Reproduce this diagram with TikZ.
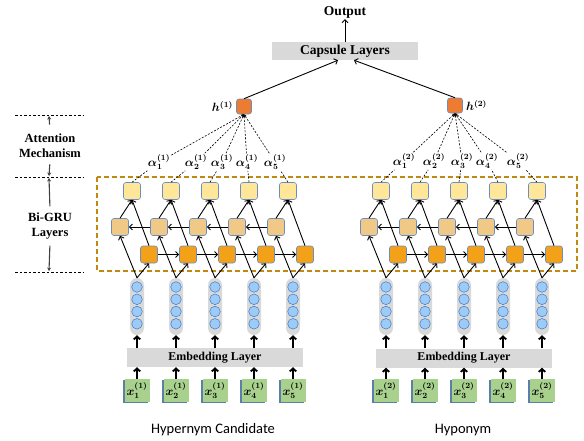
\documentclass[tikz,border=0pt]{standalone}
\usepackage{fontspec}
\setmainfont{Liberation Serif}
\newfontfamily\capfont{Carlito}
\usepackage{amsmath}
\usetikzlibrary{positioning,shadows,arrows.meta}

\definecolor{cellborder}{HTML}{6C8EBF}
\definecolor{topyellow}{HTML}{FFE699}
\definecolor{midtan}{HTML}{F0C987}
\definecolor{botorange}{HTML}{F4A11A}
\definecolor{horange}{HTML}{EE7B32}
\definecolor{bargray}{HTML}{D9D9D9}
\definecolor{dotblue}{HTML}{9DCBF7}
\definecolor{dotborder}{HTML}{3F7BC6}
\definecolor{xgreen}{HTML}{A9D18E}
\definecolor{xshadow}{HTML}{5B7FA8}
\definecolor{framegold}{HTML}{C08A10}
\definecolor{sidegray}{HTML}{404040}

\tikzset{
    cell/.style={draw=cellborder, line width=0.6pt, rounded corners=2.5pt,
        minimum width=17pt, minimum height=17pt, inner sep=0pt},
    topcell/.style={cell, fill=topyellow},
    midcell/.style={cell, fill=midtan},
    botcell/.style={cell, fill=botorange},
    hcell/.style={cell, fill=horange, minimum width=15pt, minimum height=15pt},
    graybar/.style={fill=bargray, inner sep=0pt},
    vecbar/.style={fill=bargray, rounded corners=7pt, minimum width=14pt,
        minimum height=57pt, inner sep=0pt},
    vecdot/.style={fill=dotblue, draw=dotborder, line width=0.5pt},
    xbox/.style={fill=xgreen, minimum width=25pt, minimum height=23pt, inner sep=0pt,
        drop shadow={shadow xshift=-1.2pt, shadow yshift=-1.2pt, fill=xshadow, opacity=1},
        font=\fontsize{11.5}{13}\selectfont\boldmath},
    mathlabel/.style={inner sep=1pt, font=\fontsize{11.5}{13}\selectfont\boldmath},
    gru/.style={line width=0.9pt, -{Straight Barb[length=3pt,width=6pt]}},
    embarrow/.style={line width=1.8pt, -{Straight Barb[length=3pt,width=6.5pt]}},
    attline/.style={line width=0.6pt, dash pattern=on 2pt off 1.5pt},
    sidearrow/.style={draw=sidegray, line width=1.1pt, -{Stealth[length=3.5pt,width=4pt]}},
    sideline/.style={line width=0.7pt, dash pattern=on 2.5pt off 2pt},
    sidetext/.style={align=center, font=\fontsize{12.5}{15}\selectfont\bfseries}
}

\begin{document}
\begin{tikzpicture}[x=1pt, y=-1pt]
    \useasboundingbox (0,0) rectangle (584,440);

    % Bi-GRU frame
    \draw[draw=framegold, line width=1.3pt, dash pattern=on 5pt off 3pt] (97,177) rectangle (577,271);

    % Draw columns of both branches
    \foreach \g/\off in {1/0,2/249} {
        \foreach \i in {1,...,5} {
            \pgfmathsetmacro\cx{98+39*\i+\off}
            \node[topcell] (top-\g-\i) at (\cx-5,191) {};
            \node[midcell] (mid-\g-\i) at (\cx-17,227) {};
            \node[botcell] (bot-\g-\i) at (\cx+12,254.5) {};
            \node[vecbar] (vec-\g-\i) at (\cx,306.5) {};
            \foreach \k in {287,299.3,311.5,323.8}
                \draw[vecdot] (\cx,\k) circle (5.3pt);
            \node[xbox] (x-\g-\i) at (\cx,390.5) {$x_{\i}^{(\g)}$};
        }
    }

    % Embedding layers
    \node[graybar, minimum width=176pt, minimum height=19pt,
        font=\fontsize{12}{14}\selectfont\bfseries] (emb1) at (215,357.5) {Embedding Layer};
    \node[graybar, minimum width=176pt, minimum height=19pt,
        font=\fontsize{12}{14}\selectfont\bfseries] (emb2) at (464,358) {Embedding Layer};

    % Connections inside each column
    \foreach \g in {1,2} {
        \foreach \i in {1,...,5} {
            \draw[embarrow] (x-\g-\i.north) -- (x-\g-\i.north |- emb\g.south);
            \draw[embarrow] (vec-\g-\i.south |- emb\g.north) -- (vec-\g-\i.south);
            \draw[gru] (vec-\g-\i.north) -- (mid-\g-\i.south);
            \draw[gru] (vec-\g-\i.north) -- (bot-\g-\i.south);
            \draw[gru] (mid-\g-\i.north) -- (top-\g-\i.south);
            \draw[gru] (bot-\g-\i.north) -- (top-\g-\i.south);
        }
        \foreach \i/\j in {1/2,2/3,3/4,4/5} {
            \draw[gru] (bot-\g-\i) -- (bot-\g-\j);
            \draw[gru] (mid-\g-\j) -- (mid-\g-\i);
        }
    }

    % Attention
    \node[hcell] (h1) at (244,106.5) {};
    \node[hcell] (h2) at (455,105.5) {};
    \node[mathlabel, left=2pt of h1] (h1lab) {$h^{(1)}$};
    \node[mathlabel, right=2pt of h2] (h2lab) {$h^{(2)}$};

    \foreach \i/\ax in {1/159,2/196,3/222,4/247,5/275}
        \node[mathlabel] (a-1-\i) at (\ax,162) {$\alpha_{\i}^{(1)}$};
    \foreach \i/\ax in {1/404,2/434,3/462,4/487,5/518}
        \node[mathlabel] (a-2-\i) at (\ax,161) {$\alpha_{\i}^{(2)}$};

    \foreach \g in {1,2} {
        \foreach \i in {1,...,5} {
            \draw[attline] (top-\g-\i.north) -- (a-\g-\i);
            \draw[attline, -{Stealth[length=3pt,width=2.5pt]}] (a-\g-\i) -- (h\g.south);
        }
    }

    % Capsule layers and output
    \node[graybar, minimum width=146pt, minimum height=18pt,
        font=\fontsize{13.5}{15}\selectfont\bfseries] (caps) at (345,51) {Capsule Layers};
    \node[inner sep=1pt, font=\fontsize{13.5}{15}\selectfont\bfseries] (out) at (345,12) {Output};
    \draw[gru] (h1.north) -- ([xshift=-7pt]caps.south);
    \draw[gru] (h2.north) -- ([xshift=9pt]caps.south);
    \draw[gru] (caps.north) -- (out.south);

    % Side annotations
    \draw[sideline] (15,115) -- (83,115);
    \draw[sideline] (15,177) -- (83,177);
    \draw[sideline] (15,272) -- (83,272);
    \coordinate (d1) at (49,116);
    \coordinate (d2) at (49,176);
    \coordinate (d3) at (49,178);
    \coordinate (d4) at (49,271);
    \node[sidetext] (attn) at (50,146) {Attention\\Mechanism};
    \node[sidetext] (bigru) at (50,226) {Bi-GRU\\Layers};
    \draw[sidearrow, shorten <=6pt] (attn.north) -- (d1);
    \draw[sidearrow, shorten <=3pt] (attn.south) -- (d2);
    \draw[sidearrow, shorten <=3pt] (bigru.north) -- (d3);
    \draw[sidearrow, shorten <=3pt] (bigru.south) -- (d4);

    % Branch names
    \node[font=\capfont\fontsize{14.5}{16}\selectfont] (cand) at (213,430) {Hypernym Candidate};
    \node[font=\capfont\fontsize{14.5}{16}\selectfont] (hypo) at (463,430) {Hyponym};
\end{tikzpicture}
\end{document}
